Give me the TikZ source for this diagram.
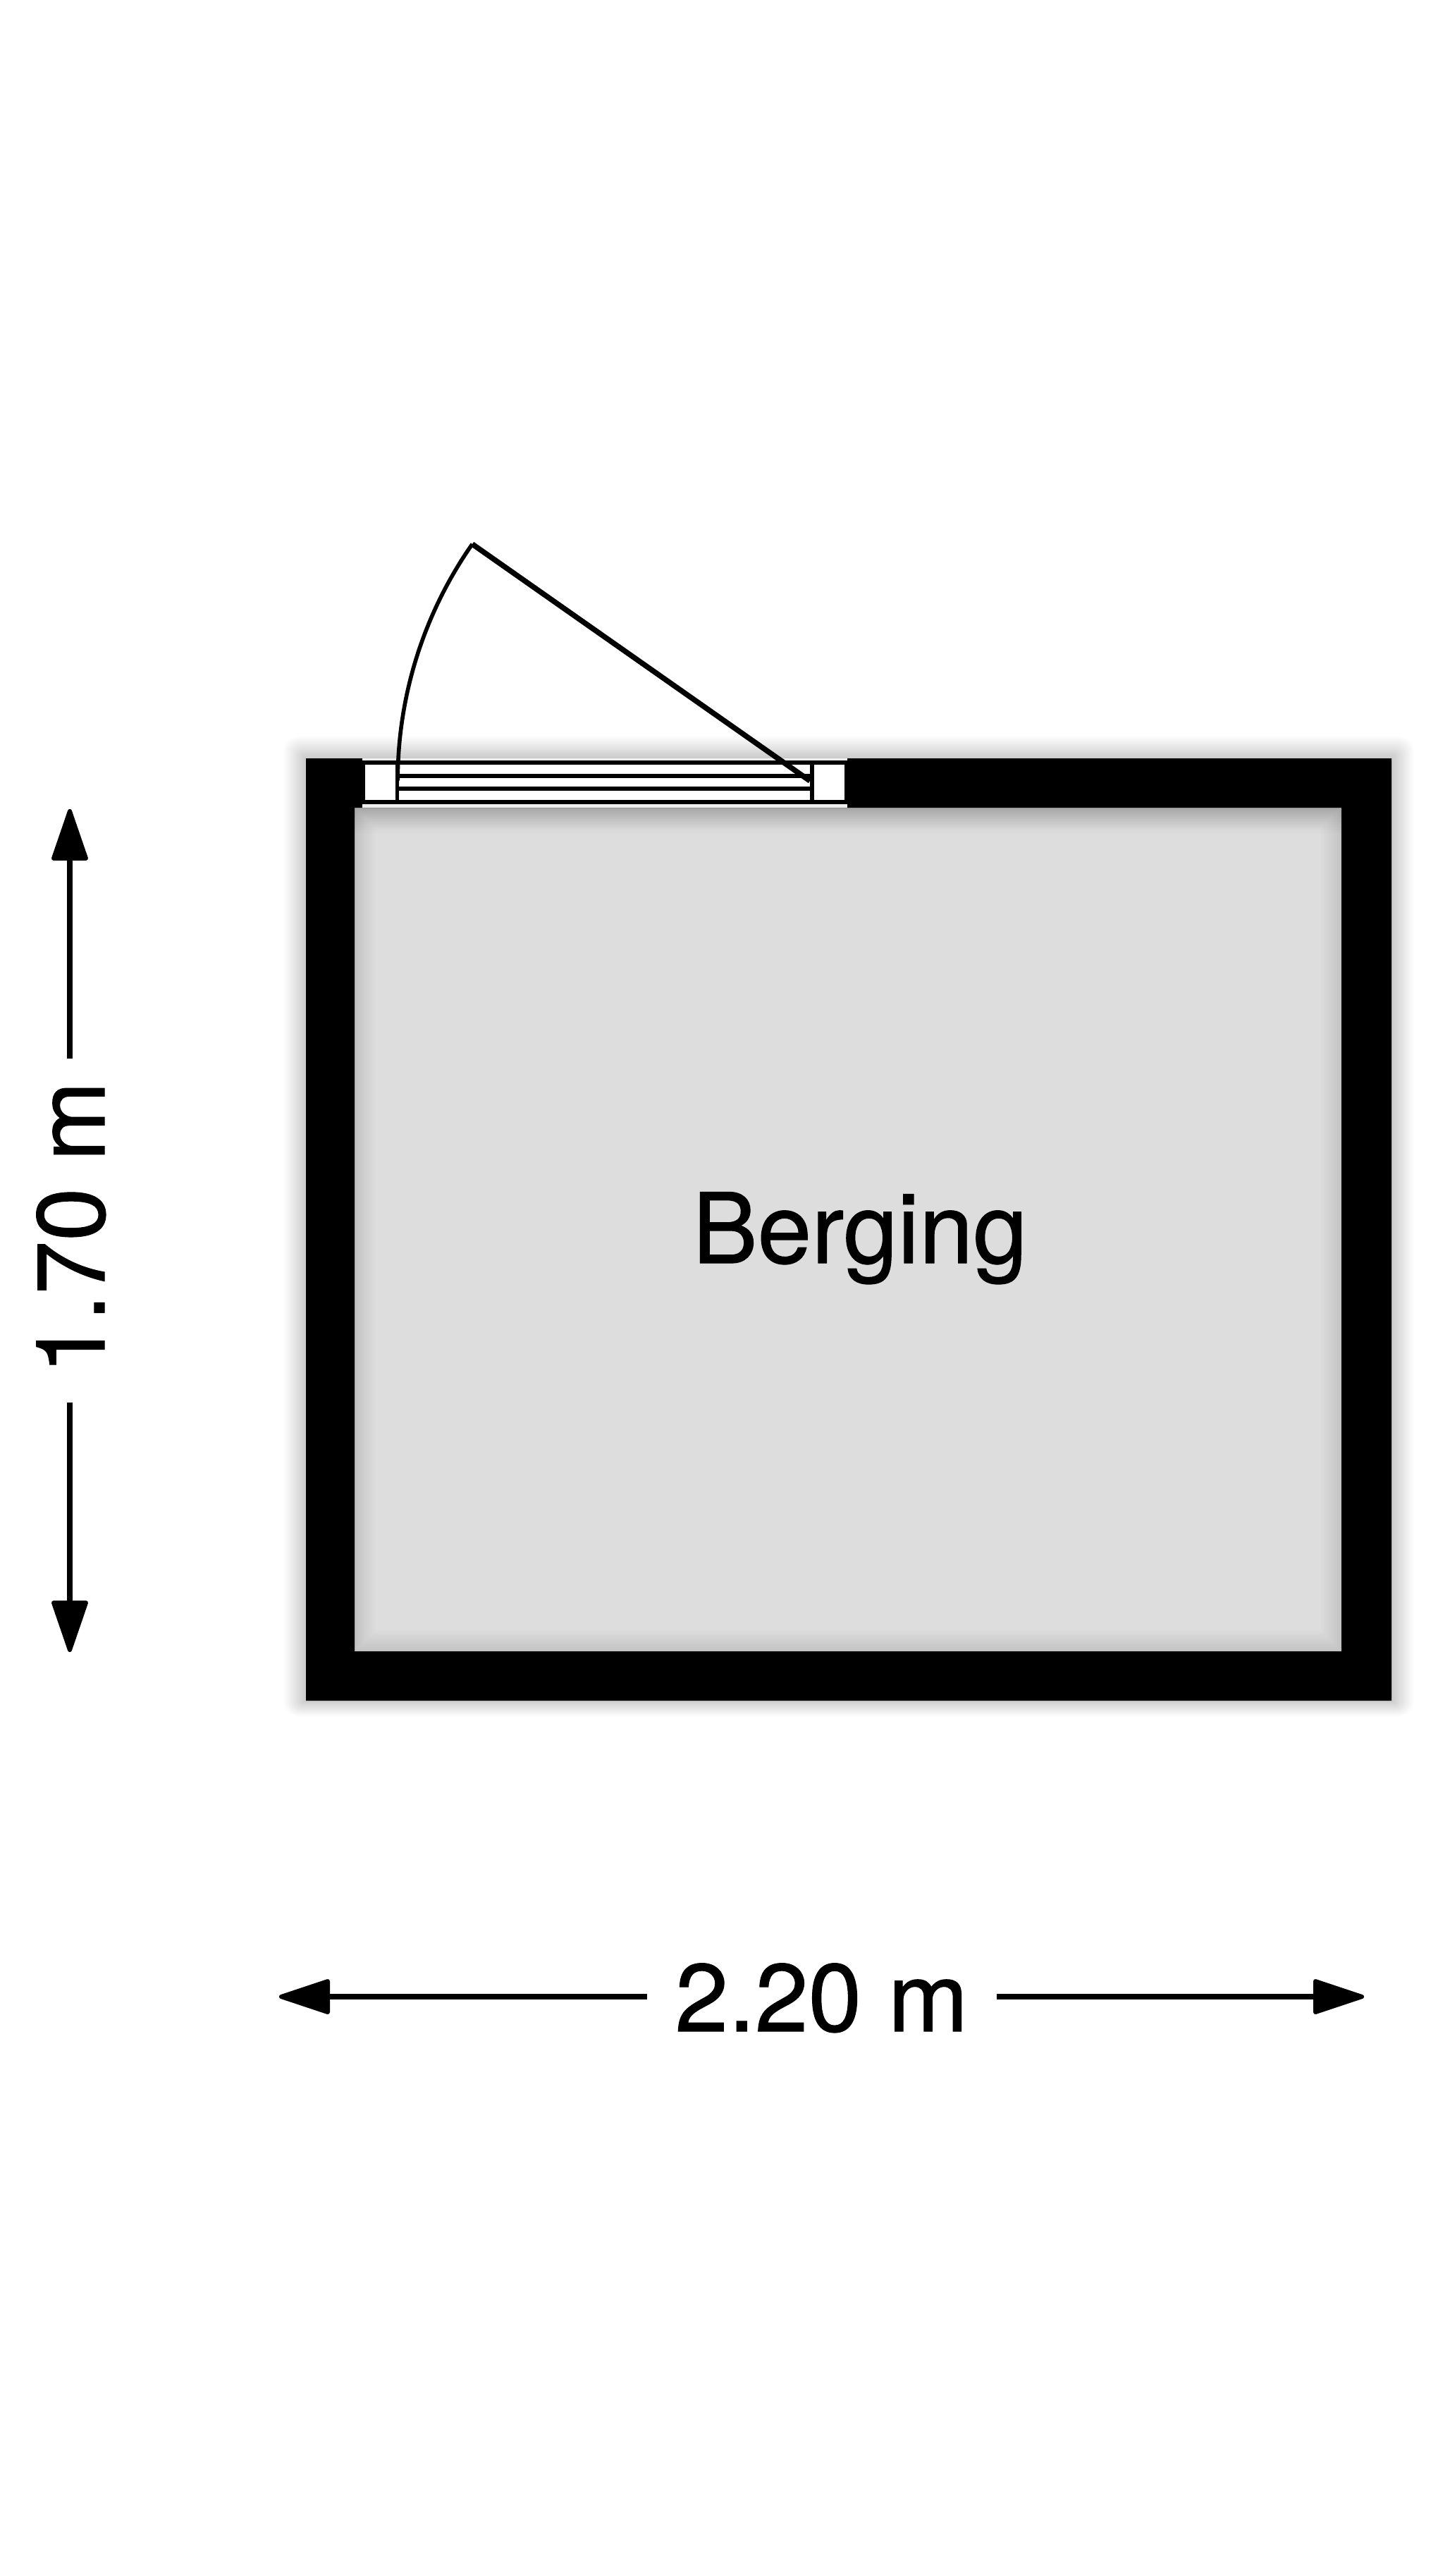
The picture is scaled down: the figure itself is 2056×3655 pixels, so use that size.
\documentclass[tikz,border=0pt]{standalone}
\usepackage{fontspec}
\setmainfont[FakeBold=0.8]{TeX Gyre Heros}
\newcommand{\dimfont}{\fontsize{68}{80}\selectfont}
\newcommand{\roomfont}{\fontsize{69}{80}\selectfont}
\definecolor{floorgray}{gray}{0.865}
\definecolor{stripgray}{gray}{0.93}
\tikzset{
  x=0.5pt,y=-0.5pt,
  wallfill/.style={fill=black,draw=none},
  leafline/.style={draw=black,line width=3.8pt},
  arcline/.style={draw=black,line width=2.8pt},
  glassline/.style={draw=black,line width=3pt},
  dimline/.style={draw=black,line width=3.6pt},
  tipfill/.style={fill=black,draw=black,line width=3pt,line join=round},
  dimlabel/.style={inner sep=0pt,text=black},
}
\begin{document}
\begin{tikzpicture}
\useasboundingbox (0,0) rectangle (2056,3655);
\fill[white] (0,0) rectangle (2056,3655);
% outer soft shadow
\foreach \i in {0,...,16}{
  \pgfmathsetmacro{\d}{34-2*\i}
  \pgfmathsetmacro{\g}{1-0.2*(\i/16)^1.1}
  \definecolor{shd}{gray}{\g}
  \pgfmathsetmacro{\rr}{\d*0.35}
  \fill[shd,rounded corners=\rr] (434-\d,1076-\d) rectangle (1974+\d,2413+\d-0.3*\d);
}
% floor with inner shadow
\foreach \i in {0,...,15}{
  \pgfmathsetmacro{\g}{0.76+0.105*(\i/15)^0.85}
  \definecolor{shd}{gray}{\g}
  \fill[shd] (503+2*\i,1146+2*\i) rectangle (1903-2*\i,2343-2*\i);
}
\fill[floorgray] (535,1178) rectangle (1871,2311);
% extra depth below the top wall
\foreach \i in {0,...,9}{
  \fill[black,fill opacity=0.012] (503,1146) rectangle (1903,1146+4*\i);
}
% walls
\fill[wallfill,even odd rule] (434,1076) rectangle (1974,2413) (503,1146) rectangle (1903,2343);
\fill[wallfill] (434,1076) rectangle (514,1146);
\fill[wallfill] (1202,1076) rectangle (1974,1146);
% window opening
\fill[stripgray] (514,1076) rectangle (1202,1146);
\fill[white] (514,1082) rectangle (1202,1140);
\draw[glassline] (514,1082) -- (1202,1082);
\draw[glassline] (514,1138) -- (1202,1138);
\draw[glassline] (564,1100.5) -- (1152,1100.5);
\draw[glassline] (564,1119) -- (1152,1119);
% jamb boxes
\fill[black] (514,1079) rectangle (566,1141);
\fill[white] (518,1085) rectangle (561,1135);
\fill[black] (1149,1079) rectangle (1202,1141);
\fill[white] (1155,1085) rectangle (1198,1135);
% door
\coordinate (hinge) at (1149,1108);
\coordinate (leafend) at (670,772);
\draw[leafline,line join=miter] (hinge) -- (leafend);
\draw[arcline] (leafend) arc[start angle=-145,end angle=-180,radius=585];
% label
\node[dimlabel,anchor=base,font=\roomfont] (room) at (1220,1792) {Berging};
% vertical dimension
\node[dimlabel,font=\dimfont,rotate=90,anchor=base] (vtext) at (148,1742) {1.70 m};
\coordinate (vtop) at (99,1502);
\coordinate (vbot) at (99,1990);
\coordinate (vtopb) at (99,1221);
\coordinate (vbotb) at (99,2271);
\draw[dimline] (vtop) -- (vtopb);
\draw[dimline] (vbot) -- (vbotb);
\fill[tipfill] (76,1218) -- (99,1151) -- (122,1218) -- cycle;
\fill[tipfill] (76,2274) -- (99,2341) -- (122,2274) -- cycle;
% horizontal dimension
\node[dimlabel,font=\dimfont,anchor=base] (htext) at (1165.5,2882) {2.20 m};
\coordinate (hleft) at (918,2833);
\coordinate (hright) at (1414,2833);
\coordinate (hleftb) at (468,2833);
\coordinate (hrightb) at (1863,2833);
\draw[dimline] (hleft) -- (hleftb);
\draw[dimline] (hright) -- (hrightb);
\fill[tipfill] (465,2811) -- (399,2833) -- (465,2855) -- cycle;
\fill[tipfill] (1866,2811) -- (1932,2833) -- (1866,2855) -- cycle;
\end{tikzpicture}
\end{document}
